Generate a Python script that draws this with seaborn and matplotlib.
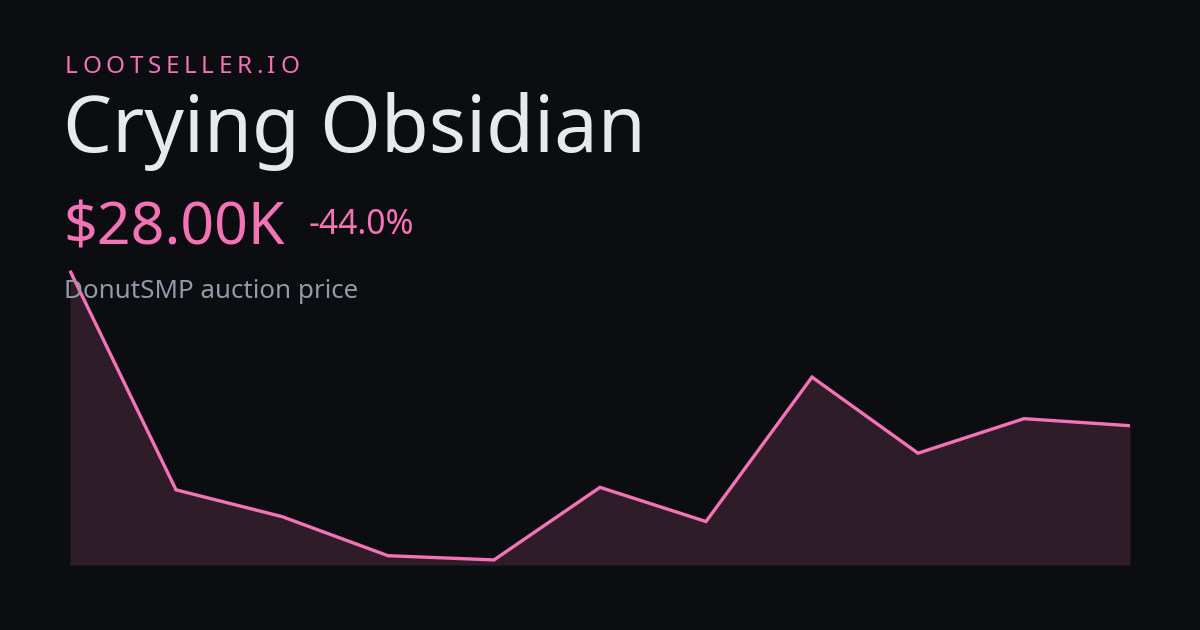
import numpy as np
import pandas as pd
import seaborn as sns
import matplotlib.pyplot as plt

# -------------------------------
# Data (price in $K, oldest -> newest)
# -------------------------------
points = list(range(11))
prices = [50.0, 18.9, 15.1, 9.55, 8.95, 19.25, 14.4, 34.9, 24.1, 29.0, 28.0]
brand = "LOOTSELLER.IO"
item_name = "Crying Obsidian"
price_label = "$28.00K"
change_label = "-44.0%"
subtitle = "DonutSMP auction price"

BG = "#0c0d11"
PINK = "#f472b6"
WHITE = "#e8e9ed"
GRAY = "#9499a8"

df = pd.DataFrame({"point": points, "price": prices})

sns.set_theme(style="dark", rc={"axes.facecolor": BG, "figure.facecolor": BG})
plt.rcParams["font.family"] = ["Noto Sans", "DejaVu Sans"]

W, H = 1200, 630
fig = plt.figure(figsize=(W / 100, H / 100), dpi=100)

# chart area: x 70..1130 px, y 270.7..565 px (from top)
ax = fig.add_axes([70 / W, (H - 565) / H, 1060 / W, (565 - 270.7) / H])
ax.set_facecolor(BG)
sns.lineplot(data=df, x="point", y="price", ax=ax, color=PINK, linewidth=2.4,
             clip_on=False, solid_joinstyle="miter", solid_capstyle="butt")
ax.fill_between(df["point"], df["price"], 8.23, color=PINK, alpha=0.15, linewidth=0)
ax.set_xlim(0, 10)
ax.set_ylim(8.23, 50)
ax.set_axis_off()

def px(x, y):
    return x / W, (H - y) / H

# brand with letter spacing
fig.canvas.draw()
renderer = fig.canvas.get_renderer()
x = 65
for ch in brand:
    t = fig.text(*px(x, 73.3), ch, color=PINK, fontsize=17.5, va="baseline", ha="left")
    w = t.get_window_extent(renderer).width
    x += w + 4.6

fig.text(*px(63, 151.7), item_name, color=WHITE, fontsize=56, va="baseline")
fig.text(*px(63, 244), price_label, color=PINK, fontsize=42.5, va="baseline")
fig.text(*px(309, 234), change_label, color=PINK, fontsize=24.3, va="baseline")
fig.text(*px(64, 297.7), subtitle, color=GRAY, fontsize=18.7, va="baseline")

fig.savefig("out.png", dpi=100, facecolor=BG)
